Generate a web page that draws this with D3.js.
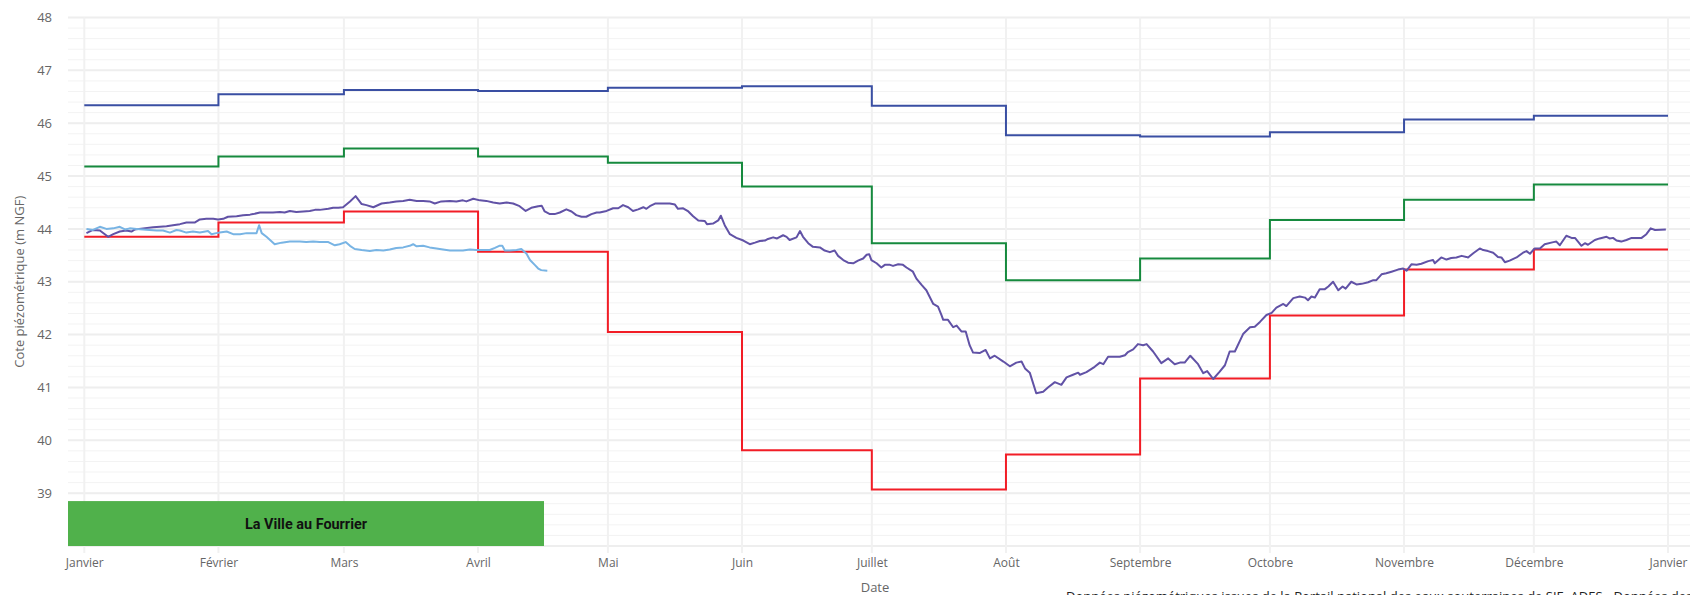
<!DOCTYPE html>
<html>
<head>
<meta charset="utf-8">
<script src="https://cdn.jsdelivr.net/npm/d3@7"></script>
<style>
    body { margin: 0; background: #fff; }
    svg { display: block; font-family: "Open Sans", sans-serif; }
</style>
</head>
<body>
<svg id="chart" width="1690" height="595"></svg>
<script>
"use strict"

// month ticks
const monthLabels = ["Janvier", "Février", "Mars", "Avril", "Mai", "Juin", "Juillet", "Août",
    "Septembre", "Octobre", "Novembre", "Décembre", "Janvier"];
const yTicks = [39, 40, 41, 42, 43, 44, 45, 46, 47, 48];

// monthly reference levels (m NGF), one per month
const maxLevels = [46.34, 46.55, 46.63, 46.61, 46.67, 46.70, 46.33, 45.77, 45.75, 45.83, 46.07, 46.14];
const meanLevels = [45.18, 45.37, 45.52, 45.37, 45.25, 44.80, 43.73, 43.03, 43.44, 44.17, 44.55, 44.84];
const minLevels = [43.85, 44.12, 44.33, 43.57, 42.05, 39.81, 39.07, 39.73, 41.17, 42.36, 43.23, 43.61];

// [day of year, level]
const yearSeries = [
    [0.5,43.92],[2.0,43.98],[3.6,43.97],[5.5,43.85],[6.7,43.90],[8.2,43.95],[9.7,43.97],[10.9,43.95],
    [11.7,43.99],[13.6,44.01],[15.9,44.03],[17.5,44.04],[19.0,44.05],[20.5,44.07],[22.1,44.09],[23.6,44.12],
    [24.8,44.12],[25.5,44.12],[26.7,44.18],[28.2,44.19],[29.8,44.19],[30.9,44.18],[32.1,44.19],[33.2,44.23],
    [35.2,44.24],[36.7,44.26],[38.3,44.27],[39.0,44.28],[40.6,44.31],[42.1,44.31],[43.6,44.31],[45.2,44.32],
    [46.3,44.31],[47.5,44.34],[49.0,44.32],[50.6,44.33],[52.1,44.34],[53.3,44.36],[54.4,44.36],[56.4,44.38],
    [57.5,44.40],[58.7,44.40],[59.8,44.41],[61.4,44.52],[62.7,44.62],[64.1,44.47],[65.2,44.45],[66.8,44.41],
    [68.7,44.48],[70.6,44.50],[72.1,44.52],[73.7,44.53],[75.2,44.55],[76.8,44.53],[78.3,44.53],[79.8,44.52],
    [81.0,44.48],[82.5,44.52],[84.5,44.53],[86.0,44.52],[87.5,44.54],[88.3,44.52],[89.9,44.57],[91.4,44.54],
    [92.9,44.53],[94.5,44.50],[96.0,44.48],[97.6,44.50],[99.1,44.48],[100.6,44.43],[102.0,44.34],[103.3,44.40],
    [104.9,44.43],[105.7,44.44],[106.4,44.33],[107.6,44.28],[108.7,44.28],[109.9,44.31],[111.4,44.37],[112.6,44.33],
    [113.7,44.26],[114.9,44.23],[116.0,44.23],[117.2,44.28],[118.4,44.31],
    [119.1,44.31],[120.7,44.34],[122.2,44.39],[123.4,44.39],[124.5,44.45],[125.7,44.41],[126.8,44.34],[128.0,44.37],
    [129.2,44.41],[129.9,44.38],[130.7,44.43],[131.9,44.48],[133.8,44.48],[135.3,44.48],[136.5,44.46],[137.2,44.38],
    [138.4,44.39],[139.6,44.33],[140.7,44.24],[141.9,44.16],[143.4,44.15],[143.9,44.09],[145.3,44.10],[146.5,44.16],
    [147.1,44.25],[148.0,44.07],[149.2,43.90],[150.7,43.83],[152.3,43.78],[153.8,43.71],[155.0,43.74],[156.1,43.77],
    [157.3,43.78],[158.0,43.81],[159.2,43.84],[160.1,43.82],[161.5,43.88],[162.3,43.85],[163.0,43.79],[164.6,43.84],
    [165.4,43.96],[166.1,43.85],[167.3,43.73],[168.4,43.66],[170.0,43.65],[171.1,43.59],[172.3,43.56],[173.4,43.59],
    [174.2,43.49],[175.4,43.41],[176.5,43.36],[177.7,43.35],[178.8,43.40],[180.0,43.44],[180.8,43.51],[181.4,43.52],
    [181.9,43.41],[183.1,43.35],[184.2,43.27],[185.0,43.32],[186.2,43.32],[186.9,43.30],[188.1,43.33],[189.2,43.32],
    [190.0,43.27],[191.5,43.19],[192.3,43.06],[193.5,42.94],[194.6,42.84],[196.2,42.58],[197.3,42.53],[198.1,42.37],
    [198.5,42.28],[199.6,42.28],[200.8,42.14],[201.6,42.17],[202.7,42.06],[203.7,42.06],[204.6,41.80],[205.4,41.66],
    [206.9,41.65],[208.3,41.71],[209.3,41.55],[210.4,41.60],[212.4,41.49],[213.9,41.40],[215.4,41.47],[216.6,41.49],
    [217.4,41.36],[218.5,41.28],[220.0,40.89],[221.6,40.92],[222.7,41.00],[224.3,41.10],[225.8,41.05],[227.0,41.19],
    [228.5,41.24],[229.7,41.28],[230.1,41.24],[231.6,41.29],[233.5,41.39],[234.7,41.47],[235.5,41.44],[236.6,41.58],
    [238.2,41.58],
    [239.3,41.58],[240.5,41.61],[241.2,41.67],[242.4,41.72],[243.5,41.82],[244.7,41.80],[245.5,41.82],[247.0,41.68],
    [248.9,41.46],[250.5,41.55],[252.0,41.44],[253.2,41.47],[254.3,41.47],[255.6,41.60],[257.4,41.44],[258.6,41.27],
    [259.5,41.31],[260.9,41.16],[262.4,41.30],[263.6,41.42],[264.7,41.68],[265.9,41.68],[267.8,42.01],[269.4,42.14],
    [270.5,42.15],[271.7,42.24],[273.2,42.37],[274.4,42.41],[275.5,42.51],[277.1,42.58],[277.8,42.54],[279.4,42.69],
    [280.9,42.72],[282.1,42.70],[282.8,42.65],[283.6,42.72],[284.4,42.70],[285.5,42.86],[286.7,42.86],[287.5,42.91],
    [288.6,43.00],[289.8,42.84],[290.8,42.91],[291.5,42.87],[292.8,43.00],[294.0,42.95],[295.2,42.96],[296.7,42.99],
    [297.9,43.03],[298.6,43.03],[299.8,43.14],[300.9,43.16],[302.1,43.19],[303.6,43.23],[304.8,43.25],[305.6,43.21],
    [306.7,43.33],[307.9,43.32],[309.0,43.34],[310.6,43.39],[311.7,43.41],[312.1,43.35],[313.6,43.46],[314.8,43.42],
    [315.9,43.45],[317.1,43.46],[318.3,43.49],[319.4,43.47],[319.8,43.46],[321.0,43.54],[322.5,43.63],[323.3,43.60],
    [324.4,43.58],[325.6,43.55],[326.7,43.47],[327.5,43.46],[328.3,43.37],[329.4,43.40],[331.0,43.46],[332.5,43.55],
    [333.3,43.58],[334.1,43.53],[335.2,43.63],[336.4,43.63],[337.5,43.71],[339.5,43.75],[340.2,43.76],[341.0,43.69],
    [342.5,43.87],[343.7,43.83],[344.5,43.83],[346.0,43.68],[346.8,43.73],[347.5,43.70],[349.1,43.79],[350.2,43.82],
    [351.8,43.85],[352.5,43.82],[353.3,43.83],[354.1,43.78],[355.2,43.76],[356.4,43.79],[357.6,43.83],[359.9,43.83],
    [361.0,43.90],[362.0,44.01],[363.0,43.98],[365.5,43.99]
];

// La Ville au Fourrier, current year so far
const stationSeries = [
    [0.5,44.00],[2.0,43.98],[3.6,44.04],[5.1,44.00],[6.7,44.01],[8.2,44.04],[9.4,43.99],[10.5,44.01],
    [12.1,44.00],[13.6,43.99],[15.1,43.98],[16.7,43.97],[18.2,43.97],[19.8,43.93],[21.3,43.98],[22.1,43.97],
    [23.6,43.93],[25.1,43.95],[26.7,43.93],[28.6,43.96],[29.4,43.90],[30.5,43.92],[31.3,43.93],[32.9,43.95],
    [34.4,43.90],[36.0,43.90],[37.5,43.92],[39.0,43.92],[39.8,43.92],[40.4,44.07],[41.0,43.92],[42.1,43.85],
    [44.0,43.71],[45.6,43.74],[47.5,43.76],[49.8,43.76],[51.3,43.75],[52.9,43.76],[54.4,43.75],[56.4,43.75],
    [57.9,43.69],[59.0,43.71],[60.4,43.75],[61.4,43.68],[62.5,43.62],[64.1,43.60],[66.0,43.58],[67.5,43.60],
    [69.1,43.59],[70.6,43.61],[72.1,43.64],[73.7,43.65],[75.2,43.68],[76.0,43.71],[76.8,43.67],[78.3,43.68],
    [79.8,43.65],[81.4,43.63],[82.9,43.61],[84.5,43.59],[86.0,43.59],[87.5,43.59],[89.1,43.61],[90.6,43.60],
    [92.2,43.60],[93.7,43.60],[94.9,43.64],[95.9,43.68],[96.6,43.68],[97.2,43.59],[98.3,43.59],[99.9,43.60],
    [101.0,43.62],[102.2,43.53],[103.0,43.41],[104.1,43.32],[104.9,43.25],[105.6,43.22],[107.0,43.21]
];

const stationName = "La Ville au Fourrier";
const sourceText = "Données piézométriques issues de la Portail national des eaux souterraines de SIE, ADES - Données des";

const yearStart = new Date(2024, 0, 1);
const monthStarts = d3.timeMonth.range(yearStart, new Date(2025, 0, 2));

function dayToDate(d) {
    return new Date(yearStart.getTime() + d * 864e5);
}

const svg = d3.select("#chart");
const W = +svg.attr("width");

const x = d3.scaleTime()
    .domain([yearStart, new Date(2025, 0, 1)])
    .range([84.3, 1668]);

const y = d3.scaleLinear()
    .domain([38, 48])
    .range([546, 17.5]);

const plotLeft = 68;

// grid
let grid = svg.append("g");
grid.selectAll(".minor")
    .data(d3.range(38, 48.001, 0.2))
    .enter().append("line")
    .attr("x1", plotLeft).attr("x2", W)
    .attr("y1", d => y(d)).attr("y2", d => y(d))
    .attr("stroke", "#f3f3f3").attr("stroke-width", 1);

grid.selectAll(".major")
    .data(d3.range(38, 49))
    .enter().append("line")
    .attr("x1", plotLeft).attr("x2", W)
    .attr("y1", d => y(d)).attr("y2", d => y(d))
    .attr("stroke", "#eeeeee").attr("stroke-width", 2);

grid.selectAll(".vert")
    .data(monthStarts)
    .enter().append("line")
    .attr("x1", d => x(d)).attr("x2", d => x(d))
    .attr("y1", y(48)).attr("y2", 553)
    .attr("stroke", "#f1f1f1").attr("stroke-width", 2);

// axes
let yAxis = svg.append("g")
    .attr("transform", "translate(52,0)")
    .call(d3.axisLeft(y).tickValues(yTicks).tickSize(0).tickPadding(0).tickFormat(d3.format("d")));
yAxis.select(".domain").remove();
yAxis.selectAll("text")
    .attr("fill", "#666")
    .style("font-size", "13px")
    .style("font-family", "'Open Sans', sans-serif");

let xAxis = svg.append("g")
    .attr("transform", "translate(0,550)")
    .call(d3.axisBottom(x).tickValues(monthStarts).tickSize(0).tickPadding(8)
        .tickFormat((d, i) => monthLabels[i]));
xAxis.select(".domain").remove();
xAxis.selectAll("text")
    .attr("fill", "#666")
    .style("font-size", "12px")
    .style("font-family", "'Open Sans', sans-serif");

svg.append("text")
    .attr("transform", "translate(19," + ((y(38) + y(48)) / 2) + ") rotate(-90)")
    .attr("text-anchor", "middle")
    .attr("dy", "0.35em")
    .attr("fill", "#666")
    .style("font-size", "13px")
    .text("Cote piézométrique (m NGF)");

svg.append("text")
    .attr("x", 875).attr("y", 592)
    .attr("text-anchor", "middle")
    .attr("fill", "#666")
    .style("font-size", "13px")
    .text("Date");

// source line, partly below the frame as in the page it came from
svg.append("text")
    .attr("x", 1066).attr("y", 601)
    .attr("fill", "#222")
    .style("font-size", "13px")
    .text(sourceText);

// station label box
svg.append("rect")
    .attr("x", plotLeft).attr("y", y(38.85))
    .attr("width", 476).attr("height", y(38) - y(38.85))
    .attr("fill", "#50b14b");

svg.append("text")
    .attr("x", plotLeft + 238).attr("y", (y(38.85) + y(38)) / 2)
    .attr("dy", "0.35em")
    .attr("text-anchor", "middle")
    .attr("fill", "#111")
    .attr("textLength", 122)
    .attr("lengthAdjust", "spacingAndGlyphs")
    .style("font-family", "Roboto, sans-serif")
    .style("font-weight", "bold")
    .style("font-size", "15px")
    .text(stationName);

// monthly steps
let stepLine = d3.line()
    .x(d => x(d.date))
    .y(d => y(d.value))
    .curve(d3.curveStepAfter);

function stepData(levels) {
    return monthStarts.map((m, i) => ({ date: m, value: levels[Math.min(i, levels.length - 1)] }));
}

let steps = [
    { levels: meanLevels, color: "#168a3e" },
    { levels: maxLevels, color: "#3a4fa3" },
    { levels: minLevels, color: "#f21d26" }
];

steps.forEach(function (s) {
    svg.append("path")
        .datum(stepData(s.levels))
        .attr("d", stepLine)
        .attr("fill", "none")
        .attr("stroke", s.color)
        .attr("stroke-width", 2);
});

// daily series
let dayLine = d3.line()
    .x(d => x(dayToDate(d[0])))
    .y(d => y(d[1]));

svg.append("path")
    .datum(yearSeries)
    .attr("d", dayLine)
    .attr("fill", "none")
    .attr("stroke", "#6152a6")
    .attr("stroke-width", 2)
    .attr("stroke-linejoin", "round");

svg.append("path")
    .datum(stationSeries)
    .attr("d", dayLine)
    .attr("fill", "none")
    .attr("stroke", "#78b4e4")
    .attr("stroke-width", 2)
    .attr("stroke-linejoin", "round");
</script>
</body>
</html>
